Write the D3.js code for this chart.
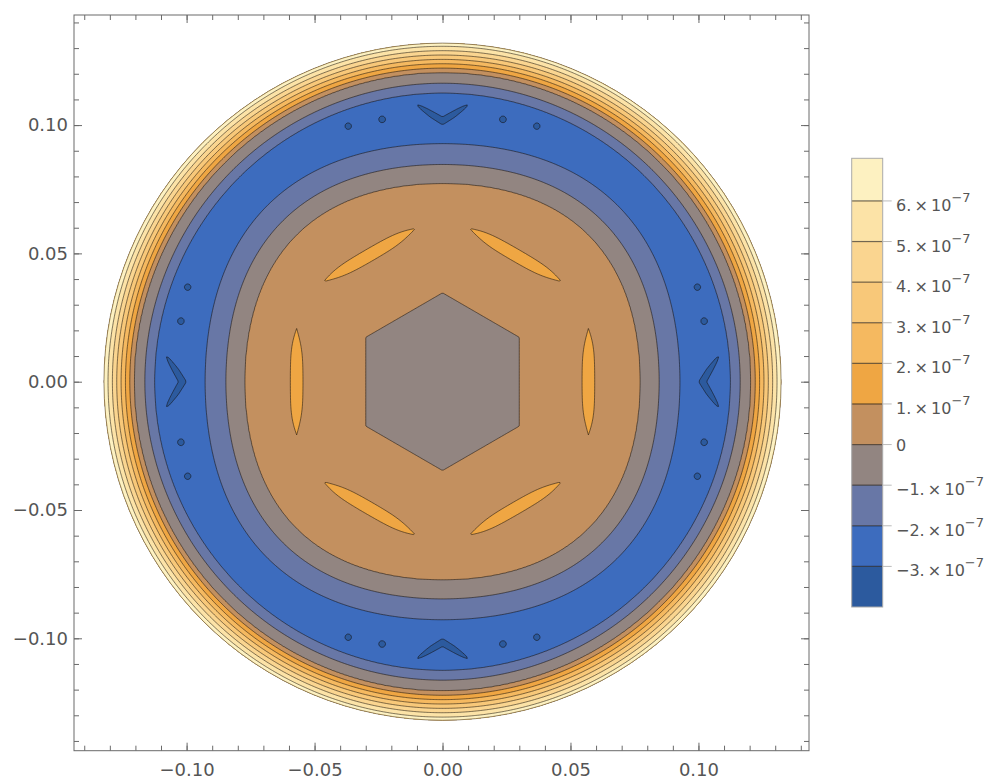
<!DOCTYPE html>
<html><head><meta charset="utf-8">
<script src="https://cdn.jsdelivr.net/npm/d3@7"></script>
<style>html,body{margin:0;padding:0;background:#fff;} svg{display:block;}</style>
</head><body>
<svg id="chart" width="1002" height="782"></svg>
<script>
// ---------------- data ----------------
const xTicks = [-0.10, -0.05, 0.00, 0.05, 0.10];
const yTicks = [-0.10, -0.05, 0.00, 0.05, 0.10];
const xTickLabels = ["\u22120.10", "\u22120.05", "0.00", "0.05", "0.10"];
const yTickLabels = ["\u22120.10", "\u22120.05", "0.00", "0.05", "0.10"];
const minorTicks = d3.range(-14, 15).map(d => d / 100);

// contour levels (units of 1e-7) and band colours
const levels = [-4, -3, -2, -1, 0, 1, 2, 3, 4, 5, 6];
const bandColors = ["#2c5a9e", "#3d6cbe", "#6877a6", "#928581", "#c3905f", "#efa643",
                    "#f5b960", "#f8c879", "#fad590", "#fce3a7", "#fdf1c1"];
const legendTicks = [-3, -2, -1, 0, 1, 2, 3, 4, 5, 6];
const legendMantissa = ["\u22123.", "\u22122.", "\u22121.", "0", "1.", "2.", "3.", "4.", "5.", "6."];
const legendRange = [-4, 7.05];

// radial profile of the field (units of 1e-7) against effective radius
const profileR = [0, 0.012, 0.022, 0.030, 0.040, 0.048, 0.0545, 0.057, 0.0595, 0.066, 0.072,
                  0.079, 0.0865, 0.0948, 0.100, 0.105, 0.109, 0.1125, 0.1163, 0.1205,
                  0.1222, 0.1239, 0.1256, 0.1273, 0.1290, 0.1307, 0.1330, 0.1450];
const profileV = [-0.65, -0.55, -0.35, 0, 0.5, 0.82, 1.0, 1.06, 1.0, 0.8, 0.45,
                  0, -1, -2, -2.55, -2.72, -2.6, -2, -1, 0,
                  1, 2, 3, 4, 5, 6, 7.2, 12];
const diskRadius = 0.1323;

// dark (< -3e-7) features inside the blue ring
const crescentAngles = [0, 90, 180, 270];
const crescentTipR = 0.1015, crescentEndR = 0.108, crescentHalfSpan = 0.0100;
const dotAngles = [13, 20.3, 69.7, 77, 103, 110.3, 159.7, 167, 193, 200.3, 249.7, 257, 283, 290.3, 339.7, 347];
const dotRadii  = [0.105, 0.1063, 0.1063, 0.105, 0.105, 0.1063, 0.1063, 0.105, 0.105, 0.1063, 0.1063, 0.105, 0.105, 0.1063, 0.1063, 0.105];

// ---------------- layout ----------------
const svg = d3.select("#chart");
const x = d3.scaleLinear().domain([-0.1440, 0.1432]).range([74, 809]);
const y = d3.scaleLinear().domain([-0.1438, 0.1429]).range([750.7, 15]);
const cb = d3.scaleLinear().domain(legendRange).range([607, 158.3]);
const cbX = 851.7, cbW = 31;
const fontAxis = "'DejaVu Sans', sans-serif";
const labelColor = "#555";

// ---------------- field ----------------
const profile = d3.scaleLinear().domain(profileR).range(profileV).clamp(true);
function smooth(a, b, v) { const t = Math.max(0, Math.min(1, (v - a) / (b - a))); return t * t * (3 - 2 * t); }
const S = Math.PI / 3;
function segDist(px, py, ax, ay, bx, by) {
  const vx = bx - ax, vy = by - ay;
  let t = ((px - ax) * vx + (py - ay) * vy) / (vx * vx + vy * vy);
  t = Math.max(0, Math.min(1, t));
  const dx = px - (ax + t * vx), dy = py - (ay + t * vy);
  return [Math.hypot(dx, dy), t];
}
const crescents = crescentAngles.map(a => {
  const r = a * Math.PI / 180, ux = Math.cos(r), uy = Math.sin(r), tx = -uy, ty = ux;
  return {tip: [ux * crescentTipR, uy * crescentTipR],
          e1: [ux * crescentEndR + tx * crescentHalfSpan, uy * crescentEndR + ty * crescentHalfSpan],
          e2: [ux * crescentEndR - tx * crescentHalfSpan, uy * crescentEndR - ty * crescentHalfSpan]};
});
const dots = dotAngles.map((a, i) => [Math.cos(a * Math.PI / 180) * dotRadii[i], Math.sin(a * Math.PI / 180) * dotRadii[i]]);

function field(px, py) {
  const r = Math.hypot(px, py), th = Math.atan2(py, px);
  const s = smooth(0.062, 0.075, r);
  const beta = 0.022 * (1 - smooth(0.100, 0.112, r));
  const phi = th - Math.round(th / S) * S;
  const g = (1 - s) * Math.cos(phi) + s * (1 + beta * Math.cos(4 * th));
  const rho = r * g;
  let v = profile(rho);
  const psi = (th - S / 2) - Math.round((th - S / 2) / S) * S;
  v -= 0.12 * Math.exp(-Math.pow(psi / (12 * Math.PI / 180), 2)) * Math.exp(-Math.pow((rho - 0.057) / 0.008, 2));
  if (r > 0.095 && r < 0.115) {
    let dip = 0;
    for (const c of crescents) {
      for (const e of [c.e1, c.e2]) {
        const [d, t] = segDist(px, py, c.tip[0], c.tip[1], e[0], e[1]);
        dip = Math.max(dip, 0.7 * (1 - 0.45 * t) * Math.exp(-Math.pow(d / 0.0015, 2)));
      }
    }
    for (const d of dots) {
      const dd = Math.hypot(px - d[0], py - d[1]);
      dip = Math.max(dip, 0.6 * Math.exp(-Math.pow(dd / 0.0016, 2)));
    }
    v -= dip;
  }
  return v;
}

const n = 480, g0 = -0.14, g1 = 0.14, step = (g1 - g0) / (n - 1);
const values = new Float64Array(n * n);
for (let j = 0; j < n; j++) for (let i = 0; i < n; i++) values[j * n + i] = field(g0 + i * step, g1 - j * step);
const contours = d3.contours().size([n, n]).thresholds(levels)(values);
const proj = d3.geoTransform({point: function (gx, gy) {
  this.stream.point(x(g0 + (gx - 0.5) * step), y(g1 - (gy - 0.5) * step));
}});
const path = d3.geoPath(proj);

// ---------------- plot ----------------
svg.append("clipPath").attr("id", "disk").append("circle")
  .attr("cx", x(0)).attr("cy", y(0)).attr("r", x(diskRadius) - x(0));
const plot = svg.append("g").attr("clip-path", "url(#disk)");
plot.selectAll("path.fill").data(contours).join("path").attr("class", "fill")
  .attr("d", path).attr("fill", (d, i) => bandColors[i]).attr("stroke", "none");
plot.selectAll("path.line").data(contours.slice(1)).join("path").attr("class", "line")
  .attr("d", path).attr("fill", "none").attr("stroke", "rgba(20,15,10,0.6)").attr("stroke-width", 0.9);
svg.append("circle").attr("cx", x(0)).attr("cy", y(0)).attr("r", x(diskRadius) - x(0))
  .attr("fill", "none").attr("stroke", "rgba(60,40,10,0.6)").attr("stroke-width", 0.9);

// frame
svg.append("rect").attr("x", 74).attr("y", 15).attr("width", 735).attr("height", 735.7)
  .attr("fill", "none").attr("stroke", "#6a6a6a").attr("stroke-width", 1);

function styleAxis(g) { g.select(".domain").remove(); g.selectAll("line").attr("stroke", "#6a6a6a"); }
// minor ticks on all four sides (pointing inward)
[[d3.axisBottom(x), "translate(0,750.7)"], [d3.axisTop(x), "translate(0,15)"],
 [d3.axisLeft(y), "translate(74,0)"], [d3.axisRight(y), "translate(809,0)"]].forEach(([ax, tr]) => {
  svg.append("g").attr("transform", tr).call(ax.tickValues(minorTicks).tickSize(-5).tickFormat("")).call(styleAxis);
});
// major ticks and labels
const axB = d3.axisBottom(x).tickValues(xTicks).tickSize(-8).tickPadding(13).tickFormat((d, i) => xTickLabels[i]);
const axT = d3.axisTop(x).tickValues(xTicks).tickSize(-8).tickFormat("");
const axL = d3.axisLeft(y).tickValues(yTicks).tickSize(-8).tickPadding(6).tickFormat((d, i) => yTickLabels[i]);
const axR = d3.axisRight(y).tickValues(yTicks).tickSize(-8).tickFormat("");
[[axB, "translate(0,750.7)"], [axT, "translate(0,15)"], [axL, "translate(74,0)"], [axR, "translate(809,0)"]].forEach(([a, tr]) => {
  const g = svg.append("g").attr("transform", tr).call(a).call(styleAxis);
  g.selectAll("text").attr("fill", labelColor).style("font-family", fontAxis).style("font-size", "18px");
});

// ---------------- colour bar ----------------
const bar = svg.append("g");
bar.selectAll("rect.band").data(levels).join("rect").attr("class", "band")
  .attr("x", cbX).attr("width", cbW)
  .attr("y", (d, i) => cb(i + 1 < levels.length ? levels[i + 1] : legendRange[1]))
  .attr("height", (d, i) => cb(d) - cb(i + 1 < levels.length ? levels[i + 1] : legendRange[1]))
  .attr("fill", (d, i) => bandColors[i]);
bar.selectAll("line.lv").data(legendTicks).join("line").attr("class", "lv")
  .attr("x1", cbX).attr("x2", cbX + cbW).attr("y1", d => cb(d)).attr("y2", d => cb(d))
  .attr("stroke", "rgba(20,15,10,0.6)").attr("stroke-width", 1.2);
bar.append("rect").attr("x", cbX).attr("y", cb(legendRange[1])).attr("width", cbW)
  .attr("height", cb(legendRange[0]) - cb(legendRange[1])).attr("fill", "none").attr("stroke", "#aaa").attr("stroke-width", 1);
bar.selectAll("line.tk").data(legendTicks).join("line").attr("class", "tk")
  .attr("x1", cbX + cbW).attr("x2", cbX + cbW + 9).attr("y1", d => cb(d)).attr("y2", d => cb(d))
  .attr("stroke", "#bbb").attr("stroke-width", 1);
const lab = bar.selectAll("text.lb").data(legendTicks).join("text").attr("class", "lb")
  .attr("x", 896).attr("y", d => cb(d) + (d === 0 ? 6 : 10))
  .attr("fill", labelColor).style("font-family", fontAxis).style("font-size", "16px");
lab.each(function (d, i) {
  const t = d3.select(this);
  if (d === 0) { t.text(legendMantissa[i]); return; }
  t.append("tspan").text(legendMantissa[i] + "\u2009\u00d7\u200910");
  t.append("tspan").attr("dy", -9).style("font-size", "13px").text("\u22127");
});
</script>
</body></html>
